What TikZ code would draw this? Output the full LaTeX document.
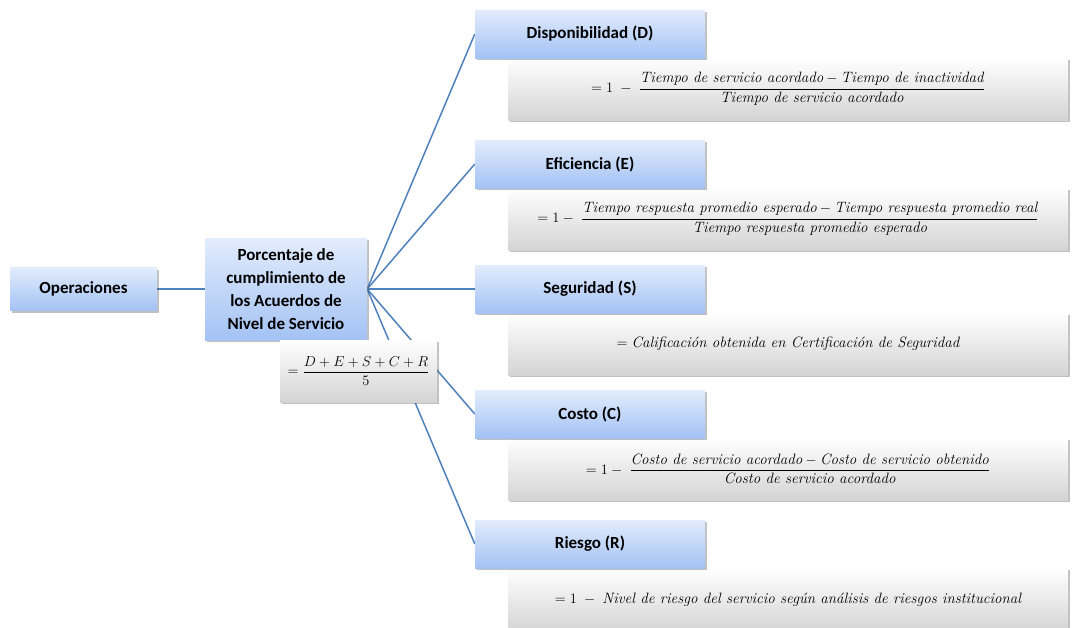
\documentclass[tikz,border=0pt]{standalone}
\usepackage[no-math]{fontspec}
\newfontfamily\calib{Carlito}
\usetikzlibrary{shadows,backgrounds}
\definecolor{lnblue}{HTML}{4F81BD}
\definecolor{btop}{HTML}{E2ECFC}
\definecolor{bbot}{HTML}{A3C2F4}
\definecolor{gmid}{HTML}{F4F4F4}
\definecolor{gbot}{HTML}{D4D4D4}
\tikzset{
  bluebox/.style={rectangle, inner sep=2pt, top color=btop, bottom color=bbot, draw=none,
    drop shadow={shadow xshift=1.5pt, shadow yshift=-2pt, opacity=0.35, fill=black!70},
    font=\calib\bfseries\fontsize{17}{23}\selectfont, align=center},
  greybox/.style={rectangle, inner sep=2pt, top color=white, middle color=gmid, bottom color=gbot, draw=none,
    drop shadow={shadow xshift=1.5pt, shadow yshift=-2pt, opacity=0.35, fill=black!70},
    font=\fontsize{15}{17}\selectfont, align=center},
  conn/.style={draw=lnblue, line width=1.5pt}
}
\begin{document}
\begin{tikzpicture}[x=1pt,y=-1pt]
\useasboundingbox (0,0) rectangle (1074,627);
% left nodes
\node[bluebox, minimum width=147pt, minimum height=43pt] (op) at (83.5,289) {Operaciones};
\node[bluebox, minimum width=162pt, minimum height=102pt] (pc) at (286,289)
  {Porcentaje de\\cumplimiento de\\los Acuerdos de\\Nivel de Servicio};
\node[greybox, minimum width=157pt, minimum height=62pt, font=\fontsize{14.5}{17}\selectfont] (pf) at (358.5,371)
  {$\displaystyle =\frac{D+E+S+C+R}{5}$};
% grey formula boxes
\node[greybox, minimum width=560pt, minimum height=62pt] (df) at (788,89)
  {$\displaystyle =1\;-\;\frac{\textit{Tiempo de servicio acordado} - \textit{Tiempo de inactividad}}{\textit{Tiempo de servicio acordado}}$};
\node[greybox, minimum width=560pt, minimum height=62pt] (ef) at (788,219)
  {$\displaystyle =1-\;\frac{\textit{Tiempo respuesta promedio esperado} - \textit{Tiempo respuesta promedio real}}{\textit{Tiempo respuesta promedio esperado}}$};
\node[greybox, minimum width=560pt, minimum height=62pt] (sf) at (788,344)
  {$=\textit{Calificación obtenida en Certificación de Seguridad}$};
\node[greybox, minimum width=560pt, minimum height=62pt] (cf) at (788,469)
  {$\displaystyle =1-\;\frac{\textit{Costo de servicio acordado} - \textit{Costo de servicio obtenido}}{\textit{Costo de servicio acordado}}$};
\node[greybox, minimum width=560pt, minimum height=64pt] (rf) at (788,600)
  {$=1\;-\;\textit{Nivel de riesgo del servicio según análisis de riesgos institucional}$};
% blue child boxes
\node[bluebox, minimum width=230pt, minimum height=48pt] (d) at (590,34) {Disponibilidad (D)};
\node[bluebox, minimum width=230pt, minimum height=48pt] (e) at (590,164) {Eficiencia (E)};
\node[bluebox, minimum width=230pt, minimum height=48pt] (s) at (590,289) {Seguridad (S)};
\node[bluebox, minimum width=230pt, minimum height=48pt] (c) at (590,414) {Costo (C)};
\node[bluebox, minimum width=230pt, minimum height=48pt] (r) at (590,544) {Riesgo (R)};
% connectors
\begin{scope}[on background layer]
\draw[conn] (op.east) -- (pc.west);
\draw[conn] (pc.east) -- (d.west);
\draw[conn] (pc.east) -- (e.west);
\draw[conn] (pc.east) -- (s.west);
\draw[conn] (pc.east) -- (c.west);
\draw[conn] (pc.east) -- (r.west);
\end{scope}
\end{tikzpicture}
\end{document}
